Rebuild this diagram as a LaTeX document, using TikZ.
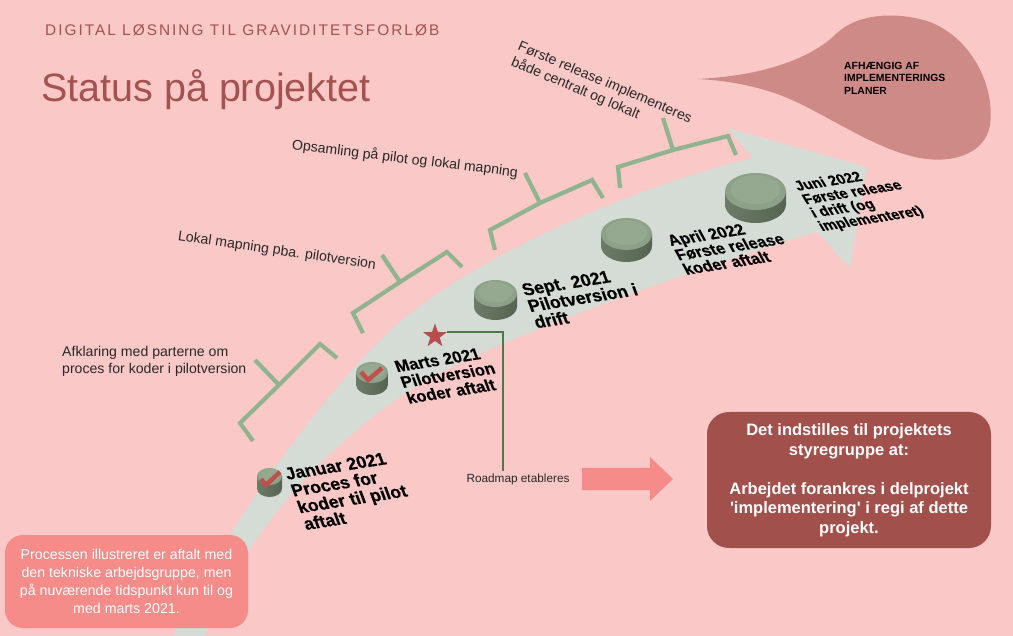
\documentclass[tikz,border=0pt]{standalone}
\usepackage{fontspec}
\setmainfont{Liberation Sans}
\newfontfamily\stonefont[FakeBold=0.5]{Liberation Sans Bold}
\usetikzlibrary{shapes.geometric}
\definecolor{bgpink}{RGB}{250,200,199}
\definecolor{bandgrey}{RGB}{213,219,213}
\definecolor{bracketgreen}{RGB}{143,180,143}
\definecolor{stonetop}{RGB}{140,161,135}
\definecolor{stonelight}{RGB}{148,169,143}
\definecolor{stoneleft}{RGB}{108,123,103}
\definecolor{stoneright}{RGB}{86,99,82}
\definecolor{markred}{RGB}{192,80,78}
\definecolor{starred}{RGB}{184,78,76}
\definecolor{roadgreen}{RGB}{78,122,75}
\definecolor{notered}{RGB}{245,140,138}
\definecolor{decisionred}{RGB}{161,80,76}
\definecolor{calloutrose}{RGB}{206,138,135}
\definecolor{titlered}{RGB}{163,82,80}
\definecolor{labelgrey}{RGB}{40,40,40}
\begin{document}
\begin{tikzpicture}[x=1pt,y=-1pt,
	bracket/.style={draw=bracketgreen,line width=4.2pt},
	stoneside/.style={left color=stoneleft,right color=stoneright},
	tick/.style={draw=markred,line width=4.5pt},
	bracketlabel/.style={inner sep=0pt,text=labelgrey,font=\fontsize{14.1}{17}\selectfont},
	stonelabel/.style={anchor=north west,inner sep=0pt,align=left,text=black,rotate=9,xslant=-0.2},
	roadline/.style={draw=roadgreen,line width=2pt},
	notebox/.style={fill=notered,rounded corners=18pt,minimum width=243pt,minimum height=93pt,inner sep=0pt,text=white,align=center,font=\fontsize{14.2}{18}\selectfont},
	decisionbox/.style={fill=decisionred,rounded corners=22pt,minimum width=284pt,minimum height=136pt,inner sep=0pt,text=white,align=center,font=\bfseries\fontsize{16.5}{19.5}\selectfont}]
	\useasboundingbox (0,0) rectangle (1013,636);
	\fill[bgpink] (0,0) rectangle (1013,636);
	% titel
	\node[anchor=base west,inner sep=0pt,text=titlered,font=\fontsize{15.4}{18}\selectfont\addfontfeature{LetterSpace=13}] (kicker) at (45,36) {DIGITAL LØSNING TIL GRAVIDITETSFORLØB};
	\node[anchor=base west,inner sep=0pt,text=titlered,font=\fontsize{39.5}{44}\selectfont] (title) at (41,102) {Status på projektet};
	% boble
	\fill[calloutrose] (697,79) .. controls (760,76) and (810,60) .. (837,33) .. controls (860,12) and (900,12) .. (930,22) .. controls (975,40) and (995,90) .. (990,125) .. controls (985,155) and (950,165) .. (915,157) .. controls (870,147) and (820,110) .. (780,95) .. controls (750,84) and (720,80) .. (697,79) -- cycle;
	\node[anchor=north west,inner sep=0pt,align=left,font=\bfseries\fontsize{10.4}{12.5}\selectfont] (depends) at (844,62) {AFHÆNGIG AF\\IMPLEMENTERINGS\\PLANER};
	% pil
	\fill[bandgrey] (174,636) .. controls (219,536) and (330,382) .. (400,322) .. controls (470,262) and (620,190) .. (753,158) -- (727,128) -- (867,167) -- (850,268) -- (817,232) .. controls (697,268) and (520,331) .. (440,373) .. controls (370,409) and (255,505) .. (205,636) -- cycle;
	% klammer
	\draw[bracket] (253,441) -- (240,423) -- (279,385) -- (320,344) -- (337,358) (279,385) -- (255,360);
	\draw[bracket] (363,333) -- (353,313) -- (400,282) -- (447,252) -- (462,267) (400,282) -- (382,255);
	\draw[bracket] (495,250) -- (490,230) -- (540,203) -- (592,180) -- (603,198) (540,203) -- (525,173);
	\draw[bracket] (620,188) -- (618,167) -- (673,150) -- (728,136) -- (736,155) (673,150) -- (663,118);
	\node[bracketlabel,anchor=north west,align=left] (afklaring) at (62,346) {Afklaring med parterne om\\proces for koder i pilotversion};
	\node[bracketlabel,rotate=-8.4] (lokal) at (277,251) {Lokal mapning pba. pilotversion};
	\node[bracketlabel,rotate=-7] (opsamling) at (405,159) {Opsamling på pilot og lokal mapning};
	\node[bracketlabel,anchor=north west,align=left,rotate=-23] (forste) at (521,40) {Første release implementeres\\både centralt og lokalt};
	% milepæle
	\shade[stoneside] (257,476.5) -- (257,488.5) arc [start angle=180,end angle=360,x radius=12.5pt,y radius=8.5pt] -- (282,476.5) -- cycle;
	\fill[stonetop] (269.5,476.5) ellipse [x radius=12.5pt,y radius=8.5pt];
	\fill[stonelight] (269.5,475.5) ellipse [x radius=10pt,y radius=6.5pt];
	\draw[tick] (261,479) -- (266,485) -- (280,472);
	\shade[stoneside] (356,372.5) -- (356,384.5) arc [start angle=180,end angle=360,x radius=16pt,y radius=10.5pt] -- (388,372.5) -- cycle;
	\fill[stonetop] (372,372.5) ellipse [x radius=16pt,y radius=10.5pt];
	\fill[stonelight] (372,371.5) ellipse [x radius=13pt,y radius=8pt];
	\draw[tick] (361,372) -- (368,380) -- (382,368);
	\shade[stoneside] (474,293.5) -- (474,306.5) arc [start angle=180,end angle=360,x radius=21.5pt,y radius=13.5pt] -- (517,293.5) -- cycle;
	\fill[stonetop] (495.5,293.5) ellipse [x radius=21.5pt,y radius=13.5pt];
	\fill[stonelight] (495.5,292) ellipse [x radius=17.5pt,y radius=10.5pt];
	\shade[stoneside] (601,234) -- (601,246) arc [start angle=180,end angle=360,x radius=25.5pt,y radius=16pt] -- (652,234) -- cycle;
	\fill[stonetop] (626.5,234) ellipse [x radius=25.5pt,y radius=16pt];
	\fill[stonelight] (626.5,232.5) ellipse [x radius=21pt,y radius=12.5pt];
	\shade[stoneside] (725,191.5) -- (725,204.5) arc [start angle=180,end angle=360,x radius=30.5pt,y radius=18.5pt] -- (786,191.5) -- cycle;
	\fill[stonetop] (755.5,191.5) ellipse [x radius=30.5pt,y radius=18.5pt];
	\fill[stonelight] (755.5,189.5) ellipse [x radius=25pt,y radius=14.5pt];
	\node[stonelabel,font=\stonefont\fontsize{17.5}{17.5}\selectfont] (januar) at (283,468) {Januar 2021\\Proces for\\koder til pilot\\aftalt};
	\node[stonelabel,font=\stonefont\fontsize{16.5}{16.5}\selectfont] (marts) at (393,361) {Marts 2021\\Pilotversion\\koder aftalt};
	\node[stonelabel,font=\stonefont\fontsize{17.5}{17}\selectfont] (sept) at (520,284) {Sept. 2021\\Pilotversion i\\drift};
	\node[stonelabel,xslant=-0.15,font=\stonefont\fontsize{16}{15.5}\selectfont] (april) at (665,235) {April 2022\\Første release\\koder aftalt};
	\node[stonelabel,xslant=-0.2,font=\stonefont\fontsize{14.5}{14.5}\selectfont] (juni) at (792,181) {Juni 2022\\Første release\\i drift (og\\implementeret)};
	% roadmap
	\node[star,star points=5,star point ratio=2.5,fill=starred,minimum size=25pt,inner sep=0pt] (star) at (435,336) {};
	\node[inner sep=2pt,text=labelgrey,font=\fontsize{11.8}{14}\selectfont] (roadmap) at (518,479) {Roadmap etableres};
	\draw[roadline] (star.outer point 5) -| ([xshift=-15pt]roadmap.north);
	\fill[notered] (582,468) -- (650,468) -- (650,457) -- (673,479) -- (650,501) -- (650,490) -- (582,490) -- cycle;
	% bokse
	\node[decisionbox] (decision) at (849,480) {Det indstilles til projektets\\styregruppe at:\\[19.5pt]Arbejdet forankres i delprojekt\\\textquotesingle implementering\textquotesingle{} i regi af dette\\projekt.};
	\node[notebox] (note) at (126.5,581.5) {Processen illustreret er aftalt med\\den tekniske arbejdsgruppe, men\\på nuværende tidspunkt kun til og\\med marts 2021.};
\end{tikzpicture}
\end{document}
